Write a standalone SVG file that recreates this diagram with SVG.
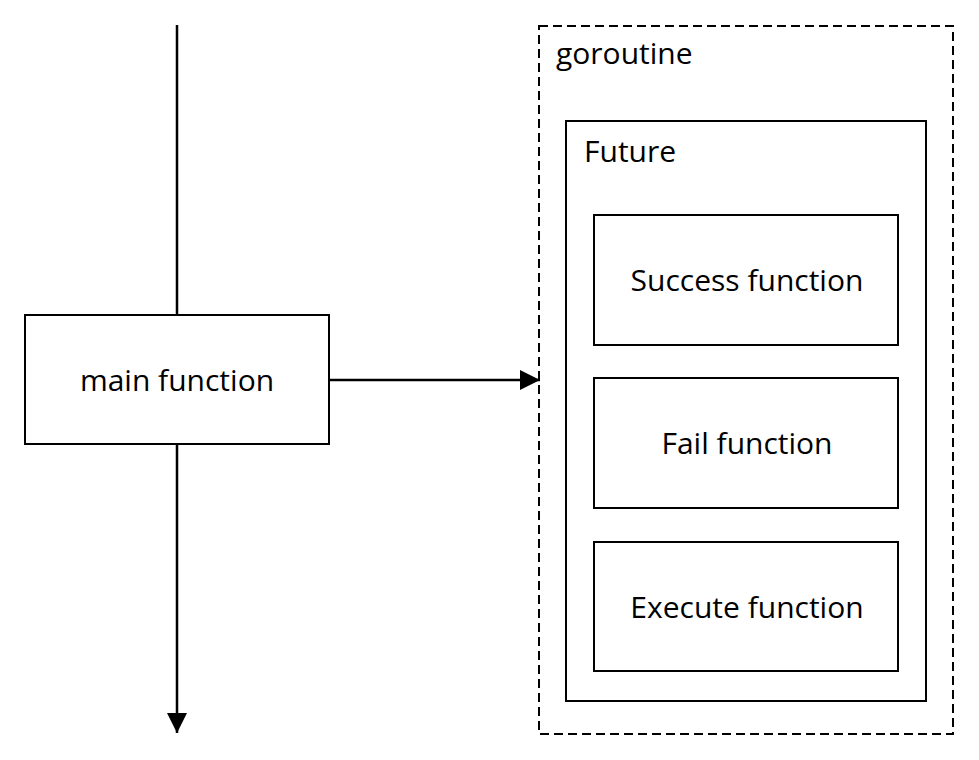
<svg xmlns="http://www.w3.org/2000/svg" width="979" height="760" viewBox="0 0 979 760">
<defs>
<style>
.box{fill:#fff;stroke:#000;stroke-width:2}
.dash{fill:none;stroke:#000;stroke-width:2;stroke-dasharray:9 5}
.lbl{font-family:"Open Sans","Liberation Sans",sans-serif;font-size:30px;fill:#000}
.conn{stroke:#000;stroke-width:2.5;fill:none}
</style>
<marker id="arrL" viewBox="0 0 20 20" refX="20" refY="10" markerWidth="20" markerHeight="20" orient="auto" markerUnits="userSpaceOnUse">
<path d="M0,0 L20,10 L0,20 Z" fill="#000"/>
</marker>
</defs>
<rect width="979" height="760" fill="#fff"/>
<g id="connectors">
<line class="conn" x1="177" y1="25" x2="177" y2="315"/>
<line class="conn" x1="177" y1="444" x2="177" y2="733" marker-end="url(#arrL)"/>
<line class="conn" x1="329" y1="380" x2="540" y2="380" marker-end="url(#arrL)"/>
</g>
<g id="goroutine">
<rect class="dash" x="539" y="26" width="414" height="708"/>
<text class="lbl" x="556" y="64">goroutine</text>
</g>
<g id="future">
<rect class="box" x="566" y="121" width="360" height="580"/>
<text class="lbl" x="584" y="162">Future</text>
</g>
<g id="success">
<rect class="box" x="594" y="215" width="304" height="130"/>
<text class="lbl" x="747" y="291" text-anchor="middle">Success function</text>
</g>
<g id="fail">
<rect class="box" x="594" y="378" width="304" height="130"/>
<text class="lbl" x="747" y="454" text-anchor="middle">Fail function</text>
</g>
<g id="execute">
<rect class="box" x="594" y="542" width="304" height="129"/>
<text class="lbl" x="747" y="618" text-anchor="middle">Execute function</text>
</g>
<g id="main">
<rect class="box" x="25" y="315" width="304" height="129"/>
<text class="lbl" x="177" y="391" text-anchor="middle">main function</text>
</g>
</svg>
